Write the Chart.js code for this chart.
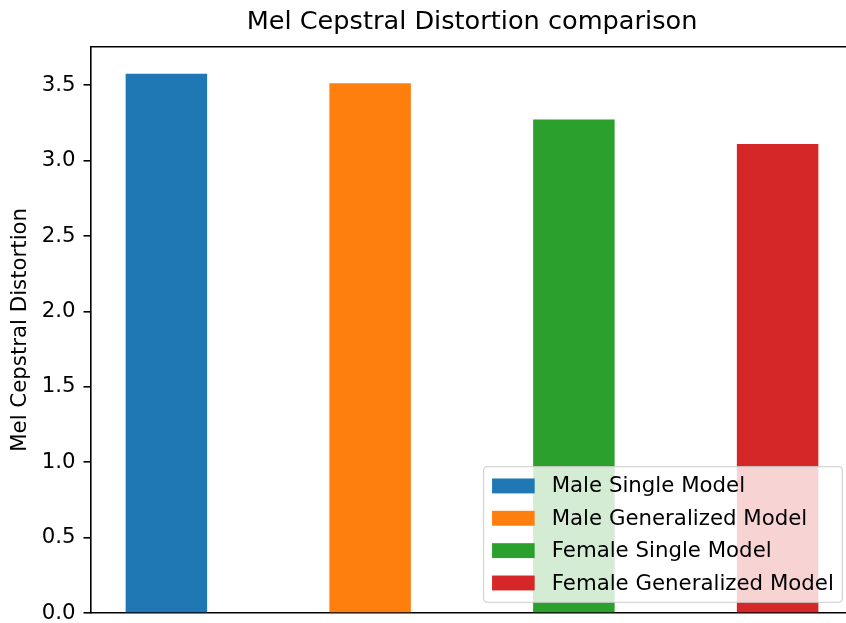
<!DOCTYPE html>
<html>
<head>
<meta charset="utf-8">
<script src="https://cdn.jsdelivr.net/npm/chart.js@4.4.1/dist/chart.umd.min.js"></script>
<style>
html, body { margin: 0; padding: 0; background: #fff; overflow: hidden; width: 846px; height: 623px; }
#wrap { width: 846px; height: 623px; overflow: hidden; position: relative; }
#mcdChart { position: absolute; left: 0; top: 0; }
</style>
</head>
<body>
<div id="wrap"><canvas id="mcdChart" width="862" height="623"></canvas></div>
<script>
// values
const modelNames = ['Male Single Model', 'Male Generalized Model', 'Female Single Model', 'Female Generalized Model'];
const mcdValues = [3.576, 3.513, 3.272, 3.110];
const barColors = ['#1f77b4', '#ff7f0e', '#2ca02c', '#d62728'];
const yTicks = [0, 0.5, 1.0, 1.5, 2.0, 2.5, 3.0, 3.5];
const titleText = 'Mel Cepstral Distortion comparison';
const yLabel = 'Mel Cepstral Distortion';

const FONT = '"DejaVu Sans", sans-serif';
const fs = 21.3;

// top spine (chart.js only draws the axis borders)
const topSpine = {
  id: 'topSpine',
  afterDraw(chart) {
    const { ctx, chartArea: a } = chart;
    ctx.save();
    ctx.strokeStyle = '#000';
    ctx.lineWidth = 1.6;
    ctx.beginPath();
    ctx.moveTo(a.left, a.top);
    ctx.lineTo(a.right, a.top);
    ctx.stroke();
    ctx.restore();
  }
};

// matplotlib style legend, lower right inside the axes
const legendBox = {
  id: 'legendBox',
  afterDatasetsDraw(chart) {
    const { ctx, chartArea: a } = chart;
    const names = chart.data.labels;
    const cols = chart.data.datasets[0].backgroundColor;
    ctx.save();
    ctx.font = fs + 'px ' + FONT;
    const textW = Math.max(...names.map(t => ctx.measureText(t).width));
    const pad = 0.4 * fs, handleW = 2 * fs, gap = 0.8 * fs, rowH = 21.7, spacing = 0.5 * fs;
    const w = pad + handleW + gap + textW + pad;
    const h = 2 * pad + names.length * rowH + (names.length - 1) * spacing;
    const x = a.right - 0.5 * fs - w;
    const y = a.bottom - 0.5 * fs - h;
    ctx.beginPath();
    ctx.roundRect(x, y, w, h, 4);
    ctx.fillStyle = 'rgba(255,255,255,0.8)';
    ctx.fill();
    ctx.strokeStyle = 'rgba(204,204,204,0.8)';
    ctx.lineWidth = 1.3;
    ctx.stroke();
    ctx.textBaseline = 'middle';
    names.forEach((t, i) => {
      const cy = y + pad + i * (rowH + spacing) + rowH / 2;
      ctx.fillStyle = cols[i];
      ctx.fillRect(x + pad, cy - 0.35 * fs, handleW, 0.7 * fs);
      ctx.fillStyle = '#000';
      ctx.fillText(t, x + pad + handleW + gap, cy + 1);
    });
    ctx.restore();
  }
};

const ctx = document.getElementById('mcdChart').getContext('2d');
const mcdChart = new Chart(ctx, {
  type: 'bar',
  data: {
    labels: modelNames,
    datasets: [{
      label: yLabel,
      data: mcdValues.map((v, i) => ({ x: i, y: v })),
      backgroundColor: barColors,
      borderWidth: 0,
      barPercentage: 0.4,
      categoryPercentage: 1.0
    }]
  },
  options: {
    responsive: false,
    animation: false,
    devicePixelRatio: 1,
    layout: { padding: { top: 0, right: 9, bottom: 10, left: 0 } },
    plugins: {
      legend: { display: false },
      tooltip: { enabled: false },
      title: {
        display: true,
        text: titleText,
        fullSize: false,
        color: '#000',
        font: { family: FONT, size: 25.6, weight: 'normal' },
        padding: { top: 7, bottom: 9 }
      }
    },
    scales: {
      x: {
        type: 'linear',
        offset: false,
        min: -0.37,
        max: 3.37,
        // one (hidden) tick per bar so the bar width is based on the bar spacing
        afterBuildTicks: s => { s.ticks = modelNames.map((_, i) => ({ value: i })); },
        ticks: { display: false },
        grid: { display: false, offset: false },
        border: { display: true, color: '#000', width: 1.6 },
        afterFit: s => { s.height = 0; s.paddingLeft = 0; s.paddingRight = 0; }
      },
      y: {
        min: 0,
        max: 3.755,
        afterBuildTicks: s => { s.ticks = yTicks.map(v => ({ value: v })); },
        ticks: {
          callback: v => v.toFixed(1),
          color: '#000',
          font: { family: FONT, size: fs },
          padding: 8
        },
        grid: { drawOnChartArea: false, drawTicks: true, tickLength: 7.5, color: '#000', lineWidth: 1.6 },
        border: { display: true, color: '#000', width: 1.6 },
        title: {
          display: true,
          text: yLabel,
          color: '#000',
          font: { family: FONT, size: fs },
          padding: { top: 8, bottom: 0 }
        },
        afterFit: s => { s.width = 91; s.paddingTop = 0; s.paddingBottom = 0; }
      }
    }
  },
  plugins: [topSpine, legendBox]
});
</script>
</body>
</html>
